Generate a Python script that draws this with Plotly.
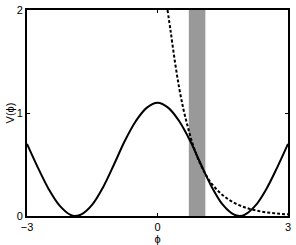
import plotly.graph_objects as go

# Solid curve: potential V(phi)
phi_v = [-3.0, -2.75, -2.5, -2.25, -2.0, -1.89, -1.75, -1.5, -1.25, -1.0, -0.75, -0.5, -0.25,
         0.0, 0.25, 0.5, 0.75, 1.0, 1.25, 1.5, 1.75, 1.89, 2.0, 2.25, 2.5, 2.75, 3.0]
v_vals = [0.70, 0.47, 0.26, 0.10, 0.01, 0.0, 0.015, 0.11, 0.28, 0.50, 0.73, 0.92, 1.05,
          1.10, 1.05, 0.92, 0.73, 0.50, 0.28, 0.11, 0.015, 0.0, 0.01, 0.10, 0.26, 0.47, 0.70]

# Dashed curve
phi_d = [0.23, 0.3, 0.4, 0.5, 0.6, 0.7, 0.8, 0.9, 1.0, 1.1, 1.2, 1.4, 1.6, 1.8, 2.0,
         2.2, 2.4, 2.6, 2.8, 3.0]
d_vals = [2.0, 1.8, 1.5, 1.24, 1.03, 0.86, 0.71, 0.59, 0.49, 0.41, 0.34, 0.24, 0.17, 0.12,
          0.085, 0.06, 0.042, 0.03, 0.022, 0.016]

# Shaded band
band = [0.72, 1.10]

x_ticks = [-3, 0, 3]
y_ticks = [0, 1, 2]

fig = go.Figure()
fig.add_shape(type="rect", xref="x", yref="y", x0=band[0], x1=band[1], y0=0, y1=2,
              fillcolor="#999999", line=dict(width=0), layer="below")
fig.add_trace(go.Scatter(x=phi_v, y=v_vals, mode="lines", line=dict(color="black", width=2, shape="spline"),
                         showlegend=False, hoverinfo="skip"))
fig.add_trace(go.Scatter(x=phi_d, y=d_vals, mode="lines",
                         line=dict(color="black", width=2, dash="3px,2px", shape="spline"),
                         showlegend=False, hoverinfo="skip", cliponaxis=True))

axis_common = dict(showline=True, linewidth=2, linecolor="black", mirror="ticks",
                   ticks="inside", ticklen=3, tickwidth=1, tickcolor="black",
                   showgrid=False, zeroline=False, tickfont=dict(size=11, color="black"),
                   automargin=False)
fig.update_xaxes(range=[-3, 3], tickvals=x_ticks, ticktext=["\u22123", "0", "3"],
                 title=dict(text="\u03d5", font=dict(size=11, color="black"), standoff=2),
                 **axis_common)
fig.update_yaxes(range=[0, 2], tickvals=y_ticks,
                 title=dict(text="V(\u03d5)", font=dict(size=11, color="black"), standoff=0),
                 **axis_common)
fig.update_layout(width=296, height=245, margin=dict(l=27, r=8, t=10, b=29),
                  plot_bgcolor="white", paper_bgcolor="white",
                  font=dict(family="Liberation Sans, Arial, sans-serif", color="black"))
fig.write_html("out.html", config={"displayModeBar": False},
               post_script="document.body.style.margin='0';document.body.style.overflow='hidden';")
